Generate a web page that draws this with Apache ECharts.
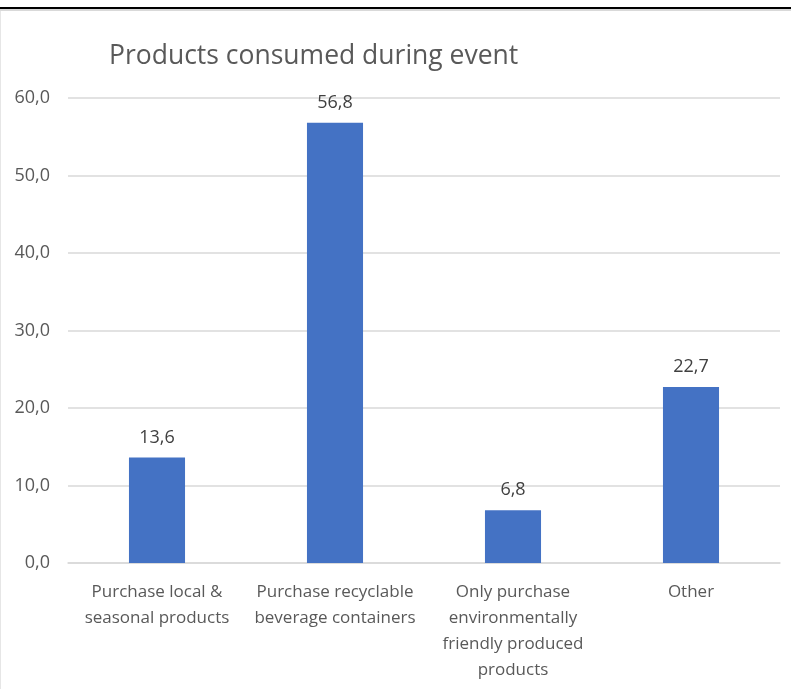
<!DOCTYPE html>
<html>
<head>
<meta charset="utf-8">
<script src="https://cdn.jsdelivr.net/npm/echarts@6/dist/echarts.min.js"></script>
<style>
html,body{margin:0;padding:0;background:#fff;}
#c{width:791px;height:689px;}
</style>
</head>
<body>
<div id="c"></div>
<script>
const titleText = "Products consumed during event";
const categories = [
  "Purchase local &\nseasonal products",
  "Purchase recyclable\nbeverage containers",
  "Only purchase\nenvironmentally\nfriendly produced\nproducts",
  "Other"
];
const values = [13.6, 56.8, 6.8, 22.7];
const yTicks = [0, 10, 20, 30, 40, 50, 60];

const fontFam = "'Open Sans', 'Noto Sans', sans-serif";
const chart = echarts.init(document.getElementById('c'), null, {renderer: 'canvas'});
chart.setOption({
  animation: false,
  backgroundColor: '#fff',
  title: {
    text: titleText,
    left: 104,
    top: 38,
    textStyle: {fontFamily: fontFam, fontSize: 26.5, fontWeight: 'normal', color: '#595959'}
  },
  graphic: [
    {type: 'rect', shape: {x: 0, y: 7, width: 791, height: 2}, style: {fill: '#000'}},
    {type: 'rect', shape: {x: 0, y: 9, width: 791, height: 2}, style: {fill: '#d9d9d9'}},
    {type: 'rect', shape: {x: 0, y: 11, width: 1, height: 678}, style: {fill: '#e6e6e6'}}
  ],
  grid: {left: 68, right: 11, top: 98, bottom: 126, containLabel: false},
  xAxis: {
    type: 'category',
    data: categories,
    axisLine: {lineStyle: {color: '#d9d9d9', width: 1.5}},
    axisTick: {show: false},
    axisLabel: {
      interval: 0,
      margin: 16,
      color: '#595959',
      fontFamily: fontFam,
      fontSize: 17,
      lineHeight: 26
    }
  },
  yAxis: {
    type: 'value',
    min: yTicks[0],
    max: yTicks[yTicks.length - 1],
    interval: 10,
    axisLine: {show: false},
    axisTick: {show: false},
    splitLine: {lineStyle: {color: '#d9d9d9', width: 1.5}},
    axisLabel: {
      margin: 18,
      color: '#595959',
      fontFamily: fontFam,
      fontSize: 18,
      formatter: v => v.toFixed(1).replace('.', ',')
    }
  },
  series: [{
    type: 'bar',
    data: values,
    barWidth: '31.5%',
    itemStyle: {color: '#4472C4'},
    label: {
      show: true,
      position: 'top',
      distance: 11,
      color: '#404040',
      fontFamily: fontFam,
      fontSize: 18,
      formatter: p => p.value.toFixed(1).replace('.', ',')
    }
  }]
});
</script>
</body>
</html>
